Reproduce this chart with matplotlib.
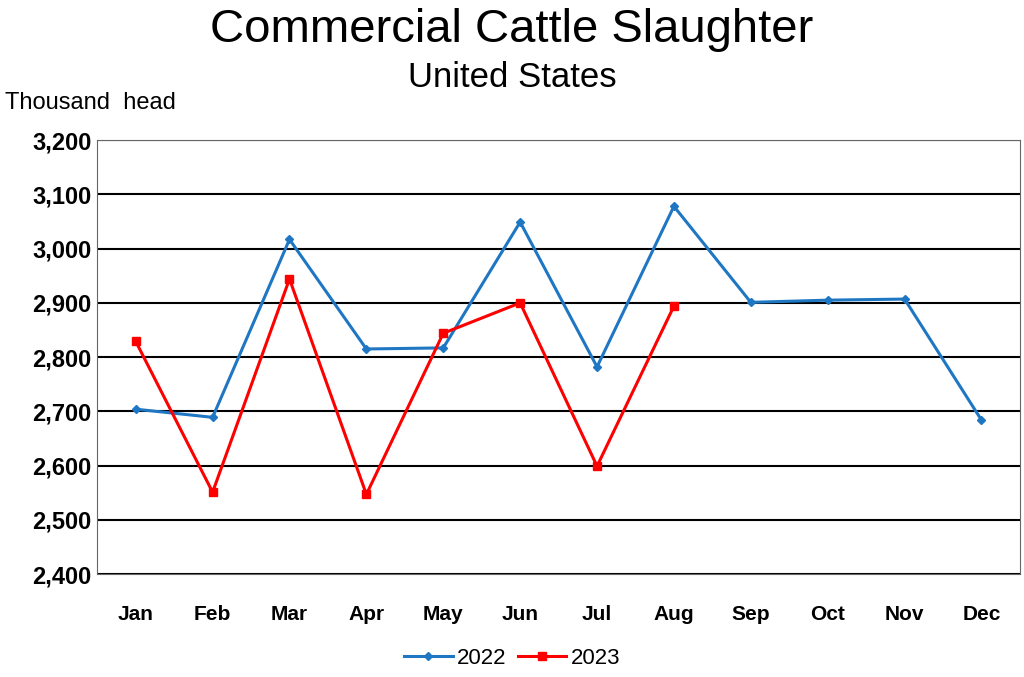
import matplotlib
matplotlib.use("Agg")
import matplotlib.pyplot as plt

months = ["Jan","Feb","Mar","Apr","May","Jun","Jul","Aug","Sep","Oct","Nov","Dec"]
s2022 = [2704, 2689, 3017, 2815, 2817, 3049, 2782, 3078, 2901, 2905, 2907, 2684]
s2023 = [2829, 2551, 2944, 2547, 2844, 2900, 2599, 2894]
yticks = [2400, 2500, 2600, 2700, 2800, 2900, 3000, 3100, 3200]

plt.rcParams["font.family"] = "Liberation Sans"
fig = plt.figure(figsize=(10.24, 6.77), dpi=100)
ax = fig.add_axes([0.095, 0.152, 0.901, 0.641])
x = list(range(12))
ax.plot(x, s2022, color="#1f77c4", lw=2.2, marker="D", ms=4, label="2022")
ax.plot(x[:len(s2023)], s2023, color="#ff0000", lw=2.2, marker="s", ms=6, label="2023")
ax.set_xlim(-0.5, 11.5)
ax.set_ylim(2400, 3200)
ax.set_yticks(yticks)
ax.set_yticklabels([f"{v:,}" for v in yticks], fontsize=17, fontweight="bold")
ax.set_xticks(x)
ax.set_xticklabels(months, fontsize=15, fontweight="bold")
ax.tick_params(length=0)
ax.tick_params(axis="x", pad=22)
ax.tick_params(axis="y", pad=4)
ax.yaxis.grid(True, color="black", lw=1.5)
ax.set_axisbelow(True)
for s in ax.spines.values():
    s.set_color("#666666")
fig.text(0.5, 0.955, "Commercial Cattle Slaughter", ha="center", va="center", fontsize=34)
fig.text(0.5, 0.885, "United States", ha="center", va="center", fontsize=25)
fig.text(0.005, 0.848, "Thousand  head", ha="left", va="center", fontsize=17)
fig.legend(loc="center", bbox_to_anchor=(0.5, 0.028), ncol=2, frameon=False,
           fontsize=16, handlelength=2.2, columnspacing=0.5, handletextpad=0.2)
fig.savefig("out.png", dpi=100)
